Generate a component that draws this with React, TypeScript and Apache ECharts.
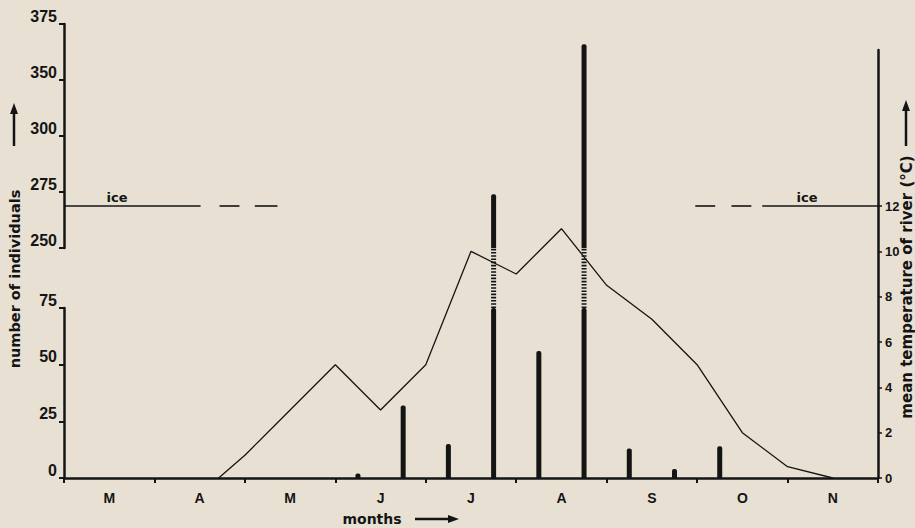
import React, { useEffect, useRef } from 'react';
import * as echarts from 'echarts';

// ---- data ----
const months = ['M', 'A', 'M', 'J', 'J', 'A', 'S', 'O', 'N'];
// sampling dates in month units (0 = start of March)
const sampleX = [3.25, 3.75, 4.25, 4.75, 5.25, 5.75, 6.25, 6.75, 7.25];
const individuals = [2, 32, 15, 274, 56, 366, 13, 4, 14];
const lowerMax = 75;
const lowerInterval = 25;
const upperTickLabels = [250, 275, 300, 350, 375];
const tempX = [1.71, 2.0, 2.5, 3.0, 3.5, 4.0, 4.5, 5.0, 5.5, 6.0, 6.5, 7.0, 7.5, 8.0, 8.5];
const tempC = [0, 1, 3, 5, 3, 5, 10, 9, 11, 8.5, 7, 5, 2, 0.5, 0];
const tempMax = 12;
const tempInterval = 2;
const iceLevel = 12;
const iceSegments = [
  [0, 1.51],
  [1.72, 1.94],
  [2.11, 2.36],
  [6.98, 7.2],
  [7.38, 7.6],
  [7.72, 9],
];

const INK = '#141414';
const BG = '#e8e1d3';
const FONT = '"Liberation Sans", Arial, sans-serif';
const TITLE_FONT = '"DejaVu Sans", sans-serif';

function toUpperIndex(v: number): number {
  const L = upperTickLabels;
  for (let i = 0; i < L.length - 1; i++) {
    if (v <= L[i + 1]) return i + (v - L[i]) / (L[i + 1] - L[i]);
  }
  return L.length - 1;
}

export default function App() {
  const ref = useRef<HTMLDivElement>(null);
  useEffect(() => {
    if (!ref.current) return;
    const chart = echarts.init(ref.current, undefined, { renderer: 'svg' });
    const gridBase = { left: 64, right: 37, containLabel: false, outerBoundsMode: 'none' } as any;
    const hiddenX = (gridIndex: number) => ({ type: 'value', gridIndex, min: 0, max: months.length, show: false });

    const tall = sampleX.map((x, i) => ({ x, v: individuals[i] })).filter((d) => d.v >= upperTickLabels[0]);

    const series: any[] = [
      {
        type: 'bar',
        xAxisIndex: 1,
        yAxisIndex: 0,
        barWidth: 5,
        itemStyle: { color: INK, borderRadius: [2, 2, 0, 0] },
        data: sampleX.map((x, i) => [x, Math.min(individuals[i], lowerMax)]),
      },
      {
        type: 'bar',
        xAxisIndex: 2,
        yAxisIndex: 1,
        barWidth: 5,
        itemStyle: { color: INK, borderRadius: [2, 2, 0, 0] },
        data: tall.map((d) => [d.x, toUpperIndex(d.v)]),
      },
      ...tall.map((d) => ({
        type: 'line',
        xAxisIndex: 3,
        yAxisIndex: 2,
        symbol: 'none',
        clip: false,
        lineStyle: { color: INK, width: 5, type: [1.6, 1.6] },
        data: [
          [d.x, 0],
          [d.x, 1],
        ],
      })),
      {
        type: 'line',
        xAxisIndex: 4,
        yAxisIndex: 3,
        symbol: 'none',
        clip: false,
        lineStyle: { color: INK, width: 1.3 },
        data: tempX.map((x, i) => [x, tempC[i]]),
      },
      ...iceSegments.map((s) => ({
        type: 'line',
        xAxisIndex: 4,
        yAxisIndex: 3,
        symbol: 'none',
        clip: false,
        lineStyle: { color: INK, width: 1.6 },
        data: [
          [s[0], iceLevel],
          [s[1], iceLevel],
        ],
      })),
    ];

    chart.setOption({
      animation: false,
      backgroundColor: BG,
      textStyle: { fontFamily: FONT, color: INK },
      grid: [
        { ...gridBase, top: 308, height: 170 },
        { ...gridBase, top: 24, height: 224 },
        { ...gridBase, top: 248, height: 60 },
        { ...gridBase, top: 206, height: 272 },
        { ...gridBase, top: 50, height: 156 },
      ],
      xAxis: [
        {
          type: 'category',
          gridIndex: 0,
          data: months,
          boundaryGap: true,
          axisLine: { onZero: false, lineStyle: { color: INK, width: 2.5 } },
          axisTick: { show: true, length: 5, lineStyle: { color: INK, width: 2 } },
          axisLabel: { color: INK, fontSize: 14, fontWeight: 'bold', margin: 13, fontFamily: FONT },
          splitLine: { show: false },
        },
        hiddenX(0),
        hiddenX(1),
        hiddenX(2),
        hiddenX(3),
        hiddenX(4),
      ],
      yAxis: [
        {
          type: 'value',
          gridIndex: 0,
          position: 'left',
          min: 0,
          max: lowerMax,
          interval: lowerInterval,
          axisLine: { show: true, onZero: false, lineStyle: { color: INK, width: 2.5 } },
          axisTick: { show: true, length: 5, lineStyle: { color: INK, width: 2 } },
          axisLabel: { color: INK, fontSize: 16, fontWeight: 'bold', margin: 7, verticalAlign: 'bottom', fontFamily: FONT },
          splitLine: { show: false },
        },
        {
          type: 'value',
          gridIndex: 1,
          position: 'left',
          min: 0,
          max: upperTickLabels.length - 1,
          interval: 1,
          axisLine: { show: true, onZero: false, lineStyle: { color: INK, width: 2.5 } },
          axisTick: { show: true, length: 5, lineStyle: { color: INK, width: 2 } },
          axisLabel: {
            color: INK,
            fontSize: 16,
            fontWeight: 'bold',
            margin: 7,
            verticalAlign: 'bottom',
            fontFamily: FONT,
            formatter: (v: number) => String(upperTickLabels[Math.round(v)] ?? ''),
          },
          splitLine: { show: false },
        },
        { type: 'value', gridIndex: 2, min: 0, max: 1, show: false },
        {
          type: 'value',
          gridIndex: 3,
          position: 'right',
          min: 0,
          max: tempMax,
          interval: tempInterval,
          axisLine: { show: true, onZero: false, lineStyle: { color: INK, width: 2.5 } },
          axisTick: { show: true, length: 4, lineStyle: { color: INK, width: 1.5 } },
          axisLabel: {
            color: INK,
            fontSize: 13,
            fontWeight: 'bold',
            margin: 7,
            padding: [0, 0, 6, 0],
            fontFamily: FONT,
          },
          splitLine: { show: false },
        },
        {
          type: 'value',
          gridIndex: 4,
          position: 'right',
          min: 0,
          max: 1,
          axisLine: { show: true, onZero: false, lineStyle: { color: INK, width: 2.5 } },
          axisTick: { show: false },
          axisLabel: { show: false },
          splitLine: { show: false },
        },
      ],
      series,
      graphic: [
        // left axis title and arrow
        {
          type: 'text',
          x: 15,
          y: 279,
          rotation: Math.PI / 2,
          style: {
            text: 'number of individuals',
            fill: INK,
            font: `bold 14.5px ${TITLE_FONT}`,
            align: 'center',
            verticalAlign: 'middle',
          },
        },
        { type: 'line', shape: { x1: 14, y1: 146, x2: 14, y2: 112 }, style: { stroke: INK, lineWidth: 2.5 } },
        { type: 'polygon', shape: { points: [[14, 103], [10, 114], [18, 114]] }, style: { fill: INK } },
        // right axis title and arrow
        {
          type: 'text',
          x: 907,
          y: 287,
          rotation: Math.PI / 2,
          style: {
            text: 'mean temperature of river (°C)',
            fill: INK,
            font: `bold 15px ${TITLE_FONT}`,
            align: 'center',
            verticalAlign: 'middle',
          },
        },
        { type: 'line', shape: { x1: 906, y1: 146, x2: 906, y2: 110 }, style: { stroke: INK, lineWidth: 2.5 } },
        { type: 'polygon', shape: { points: [[906, 100], [902, 111], [910, 111]] }, style: { fill: INK } },
        // x axis title
        {
          type: 'text',
          x: 372,
          y: 519,
          style: {
            text: 'months',
            fill: INK,
            font: `bold 14px ${TITLE_FONT}`,
            align: 'center',
            verticalAlign: 'middle',
          },
        },
        { type: 'line', shape: { x1: 415, y1: 519, x2: 450, y2: 519 }, style: { stroke: INK, lineWidth: 2.5 } },
        { type: 'polygon', shape: { points: [[459, 519], [448, 515], [448, 523]] }, style: { fill: INK } },
        // ice labels
        {
          type: 'text',
          x: 117,
          y: 197,
          style: { text: 'ice', fill: INK, font: `bold 13px ${TITLE_FONT}`, align: 'center', verticalAlign: 'middle' },
        },
        {
          type: 'text',
          x: 807,
          y: 197,
          style: { text: 'ice', fill: INK, font: `bold 13px ${TITLE_FONT}`, align: 'center', verticalAlign: 'middle' },
        },
      ],
    });
    return () => chart.dispose();
  }, []);
  return (
    <div
      ref={ref}
      style={{ position: 'fixed', left: 0, top: 0, width: 915, height: 528 }}
    />
  );
}
